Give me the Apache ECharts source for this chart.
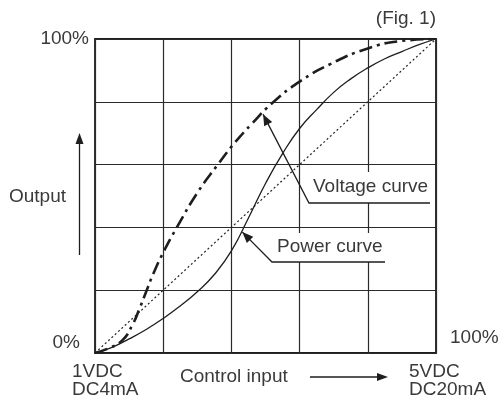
<!DOCTYPE html>
<html>
<head>
<meta charset="utf-8">
<script src="https://cdn.jsdelivr.net/npm/echarts@6/dist/echarts.min.js"></script>
<style>
  html, body { margin: 0; padding: 0; background: #fff; }
  #chartContainer { width: 499px; height: 401px; }
</style>
</head>
<body>
<div id="chartContainer"></div>
<script>
// values, both axes in % of full scale
var diagonalLine = [[0, 0], [100, 100]];
var powerCurve = [
  [0, 0], [5, 1.8], [10, 4.5], [15, 7.5], [20, 11], [25, 15], [30, 19.5],
  [35, 25], [40, 32.5], [45, 43], [50, 54], [55, 63.5], [60, 71.5], [65, 77.5],
  [70, 83], [75, 87.3], [80, 90.8], [85, 93.7], [90, 96], [95, 98.2], [100, 100]
];
var voltageCurve = [
  [0, 0], [4, 1.5], [8, 4], [11, 9], [13, 14], [15, 19.5], [17, 25], [20, 32],
  [24, 40], [30, 51], [36, 60], [41, 67], [46, 73], [52, 79.6], [60, 86.4],
  [69, 92], [80, 97], [90, 99.4], [100, 100]
];
var voltageTip = [49.3, 76];
var powerTip = [43.2, 38.5];
var cornerLabels = ["100%", "0%", "100%"];
var inputLabels = ["1VDC", "DC4mA", "5VDC", "DC20mA"];

var FONT = "Liberation Sans";
var TXT = "#3a3a3a";
var INK = "#1e1e1e";

var CHART;

function txt(text, x, y, align) {
  return {
    type: "text", x: x, y: y, z: 100,
    style: {
      text: text, fill: TXT, font: "19px '" + FONT + "'",
      textAlign: align || "left", textVerticalAlign: "middle",
    },
  };
}

// filled arrowhead with its tip at (tx,ty), pointing away from (fx,fy)
function arrowHead(fx, fy, tx, ty, len, half) {
  var dx = tx - fx, dy = ty - fy;
  var d = Math.sqrt(dx * dx + dy * dy);
  var ux = dx / d, uy = dy / d;
  var bx = tx - ux * len, by = ty - uy * len;
  return {
    type: "polygon", z: 101,
    shape: { points: [[tx, ty], [bx - uy * half, by + ux * half], [bx + uy * half, by - ux * half]] },
    style: { fill: INK },
  };
}

function leader(boxX, boxY, boxW, boxH, lineY, lineX0, lineX1, tip) {
  return [
    { type: "rect", z: 90, shape: { x: boxX, y: boxY, width: boxW, height: boxH }, style: { fill: "#fff" } },
    {
      type: "polyline", z: 100,
      shape: { points: [[tip[0], tip[1]], [lineX0, lineY], [lineX1, lineY]] },
      style: { stroke: INK, lineWidth: 1.3, fill: null },
    },
    arrowHead(lineX0, lineY, tip[0], tip[1], 11, 4.5),
  ];
}

function buildGraphics() {
  var vt = CHART.convertToPixel({ gridIndex: 0 }, voltageTip);
  var pt = CHART.convertToPixel({ gridIndex: 0 }, powerTip);
  var g = [];
  g = g.concat(leader(303, 172, 132, 31, 203, 309, 430, vt));
  g = g.concat(leader(268, 233, 122, 29, 262, 272, 385, pt));
  g.push(txt("Voltage curve", 313, 187));
  g.push(txt("Power curve", 277, 247));

  g.push(txt("(Fig. 1)", 436, 19, "right"));
  g.push(txt(cornerLabels[0], 89, 39, "right"));
  g.push(txt(cornerLabels[1], 80, 343, "right"));
  g.push(txt(cornerLabels[2], 450, 338));
  g.push(txt(inputLabels[0], 72, 372));
  g.push(txt(inputLabels[1], 72, 390));
  g.push(txt(inputLabels[2], 409, 372));
  g.push(txt(inputLabels[3], 409, 390));
  g.push(txt("Control input", 180, 377));
  g.push(txt("Output", 9, 197));

  // horizontal arrow after "Control input"
  g.push({ type: "line", z: 100, shape: { x1: 310, y1: 377, x2: 378, y2: 377 }, style: { stroke: INK, lineWidth: 1.3 } });
  g.push(arrowHead(310, 377, 388, 377, 11, 4));
  // vertical arrow next to "Output"
  g.push({ type: "line", z: 100, shape: { x1: 79.5, y1: 255, x2: 79.5, y2: 142 }, style: { stroke: INK, lineWidth: 1.3 } });
  g.push(arrowHead(79.5, 255, 79.5, 133, 11, 4));
  return g;
}

window.onload = function () {
  CHART = echarts.init(document.getElementById("chartContainer"), null, { renderer: "canvas" });
  var option = {
    animation: false,
    backgroundColor: "#fff",
    grid: {
      left: 95, right: 63, top: 39, bottom: 48,
      show: true, borderColor: INK, borderWidth: 1.8, backgroundColor: "transparent",
    },
    xAxis: {
      type: "value", min: 0, max: 100, interval: 20,
      axisLine: { show: false }, axisTick: { show: false }, axisLabel: { show: false },
      splitLine: { show: true, lineStyle: { color: "#2a2a2a", width: 1.2 } },
    },
    yAxis: {
      type: "value", min: 0, max: 100, interval: 20,
      axisLine: { show: false }, axisTick: { show: false }, axisLabel: { show: false },
      splitLine: { show: true, lineStyle: { color: "#2a2a2a", width: 1.2 } },
    },
    series: [
      {
        name: "linear", type: "line", data: diagonalLine, showSymbol: false,
        lineStyle: { color: "#222", width: 1.2, type: [2, 2.5] }, z: 3,
      },
      {
        name: "Power curve", type: "line", data: powerCurve, showSymbol: false,
        smooth: 0.5,
        lineStyle: { color: INK, width: 1.3 }, z: 4,
      },
      {
        name: "Voltage curve", type: "line", data: voltageCurve, showSymbol: false,
        smooth: 0.5,
        lineStyle: { color: INK, width: 2.6, type: [13, 5, 3, 5] }, z: 5,
      },
    ],
  };
  CHART.setOption(option);
  CHART.setOption({ graphic: buildGraphics() });
};
</script>
</body>
</html>
